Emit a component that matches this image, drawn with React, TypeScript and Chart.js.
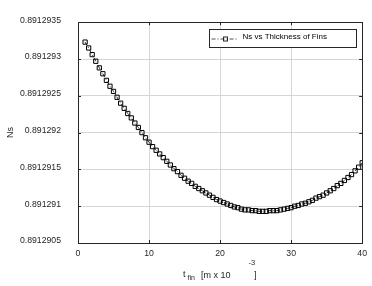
import React, { useEffect, useRef } from "react";
import { Chart, registerables } from "chart.js";

Chart.register(...registerables);

const thickness = [
  1, 1.5, 2, 2.5, 3, 3.5, 4, 4.5, 5, 5.5, 6, 6.5, 7, 7.5, 8, 8.5, 9, 9.5, 10, 10.5,
  11, 11.5, 12, 12.5, 13, 13.5, 14, 14.5, 15, 15.5, 16, 16.5, 17, 17.5, 18, 18.5, 19, 19.5, 20, 20.5,
  21, 21.5, 22, 22.5, 23, 23.5, 24, 24.5, 25, 25.5, 26, 26.5, 27, 27.5, 28, 28.5, 29, 29.5, 30, 30.5,
  31, 31.5, 32, 32.5, 33, 33.5, 34, 34.5, 35, 35.5, 36, 36.5, 37, 37.5, 38, 38.5, 39, 39.5, 40,
];

const nsValues = [
  0.89129323, 0.89129315, 0.89129306, 0.89129297, 0.89129288, 0.8912928, 0.89129271, 0.89129263,
  0.89129256, 0.89129248, 0.8912924, 0.89129233, 0.89129226, 0.8912922, 0.89129213, 0.89129207,
  0.891292, 0.89129193, 0.89129187, 0.89129181, 0.89129176, 0.89129171, 0.89129166, 0.89129161,
  0.89129156, 0.89129151, 0.89129147, 0.89129142, 0.89129138, 0.89129134, 0.89129131, 0.89129127,
  0.89129124, 0.89129121, 0.89129118, 0.89129115, 0.89129112, 0.89129109, 0.89129107, 0.89129105,
  0.89129103, 0.89129101, 0.89129099, 0.89129098, 0.89129096, 0.89129095, 0.89129095, 0.89129094,
  0.89129094, 0.89129093, 0.89129093, 0.89129093, 0.89129094, 0.89129094, 0.89129094, 0.89129095,
  0.89129096, 0.89129097, 0.89129098, 0.891291, 0.89129101, 0.89129103, 0.89129104, 0.89129106,
  0.89129108, 0.89129111, 0.89129113, 0.89129115, 0.89129118, 0.89129121, 0.89129124, 0.89129128,
  0.89129131, 0.89129135, 0.89129139, 0.89129143, 0.89129148, 0.89129153, 0.89129159,
];

const yTickValues = [0.8912905, 0.891291, 0.8912915, 0.891292, 0.8912925, 0.891293, 0.8912935];
const yTickLabels = ["0.8912905", "0.891291", "0.8912915", "0.891292", "0.8912925", "0.891293", "0.8912935"];
const xTickValues = [0, 10, 20, 30, 40];
const xTickLabels = ["0", "10", "20", "30", "40"];

const seriesLabel = "Ns vs Thickness of Fins";
const yTitle = "Ns";

const FONT = "'Liberation Sans', Arial, sans-serif";
const INK = "#262626";

const framePlugin = {
  id: "frame",
  afterDatasetsDraw(chart: any) {
    const { ctx, chartArea } = chart;
    const { left, right, top, bottom } = chartArea;
    const xs = chart.scales.x;
    const ys = chart.scales.y;
    ctx.save();
    ctx.strokeStyle = INK;
    ctx.lineWidth = 1;
    ctx.setLineDash([]);
    // box
    ctx.strokeRect(Math.round(left) + 0.5, Math.round(top) + 0.5, Math.round(right - left), Math.round(bottom - top));
    // inward ticks
    const tl = 3;
    ctx.beginPath();
    xTickValues.forEach((v) => {
      const px = Math.round(xs.getPixelForValue(v)) + 0.5;
      ctx.moveTo(px, bottom);
      ctx.lineTo(px, bottom - tl);
      ctx.moveTo(px, top);
      ctx.lineTo(px, top + tl);
    });
    yTickValues.forEach((v) => {
      const py = Math.round(ys.getPixelForValue(v)) + 0.5;
      ctx.moveTo(left, py);
      ctx.lineTo(left + tl, py);
      ctx.moveTo(right, py);
      ctx.lineTo(right - tl, py);
    });
    ctx.stroke();

    // legend
    const bx = Math.round(right - 153) + 0.5;
    const by = Math.round(top + 7) + 0.5;
    const bw = 147;
    const bh = 18;
    ctx.fillStyle = "#ffffff";
    ctx.fillRect(bx, by, bw, bh);
    ctx.strokeRect(bx, by, bw, bh);
    const ly = by + 9.5;
    ctx.beginPath();
    ctx.setLineDash([4, 2, 1, 2]);
    ctx.lineWidth = 0.8;
    ctx.moveTo(bx + 2, ly);
    ctx.lineTo(bx + 27, ly);
    ctx.stroke();
    ctx.setLineDash([]);
    ctx.lineWidth = 1;
    ctx.strokeRect(bx + 14, ly - 2, 4, 4);
    ctx.fillStyle = "#000000";
    ctx.font = `8px ${FONT}`;
    ctx.textBaseline = "middle";
    ctx.textAlign = "left";
    ctx.fillText(seriesLabel, bx + 33, by + 7.5);

    // x title
    const cx = (left + right) / 2;
    ctx.fillStyle = INK;
    ctx.textBaseline = "alphabetic";
    ctx.font = `9px ${FONT}`;
    ctx.fillText("t", cx - 37, 277);
    ctx.font = `7px ${FONT}`;
    ctx.fillText("fin", cx - 32.5, 280);
    ctx.font = `9px ${FONT}`;
    ctx.fillText("[m x 10", cx - 19, 278);
    ctx.font = `7.5px ${FONT}`;
    ctx.fillText("-3", cx + 28.5, 265);
    ctx.font = `9px ${FONT}`;
    ctx.fillText("]", cx + 34, 278);

    // y title
    ctx.save();
    ctx.translate(10.5, (top + bottom) / 2);
    ctx.rotate(-Math.PI / 2);
    ctx.textAlign = "center";
    ctx.textBaseline = "middle";
    ctx.font = `9px ${FONT}`;
    ctx.fillText(yTitle, 0, 0);
    ctx.restore();

    ctx.restore();
  },
};

export default function App() {
  const ref = useRef<HTMLCanvasElement>(null);
  useEffect(() => {
    document.body.style.margin = "0";
    const canvas = ref.current;
    if (!canvas) return;
    const chart = new Chart(canvas, {
      type: "line",
      data: {
        datasets: [
          {
            label: seriesLabel,
            data: thickness.map((x, i) => ({ x, y: nsValues[i] })),
            borderColor: "#000000",
            borderWidth: 0.8,
            borderDash: [4, 2, 1, 2],
            pointStyle: "rect",
            pointRadius: 3,
            pointBorderWidth: 1,
            pointBorderColor: "#000000",
            pointBackgroundColor: "rgba(0,0,0,0)",
            fill: false,
            tension: 0,
          },
        ],
      },
      options: {
        animation: false,
        responsive: false,
        devicePixelRatio: 1,
        layout: { padding: { top: 10, right: 8, left: 0, bottom: 0 } },
        plugins: { legend: { display: false }, tooltip: { enabled: false }, title: { display: false } },
        scales: {
          x: {
            type: "linear",
            min: 0,
            max: 40,
            afterBuildTicks: (s: any) => {
              s.ticks = xTickValues.map((v) => ({ value: v }));
            },
            afterFit: (s: any) => {
              s.height = 43;
            },
            grid: { color: "#d6d6d6", lineWidth: 1, drawTicks: false },
            border: { display: false },
            ticks: {
              padding: 5,
              color: INK,
              font: { family: FONT, size: 8.7 },
              maxRotation: 0,
              callback: (v: any) => {
                const i = xTickValues.indexOf(Number(v));
                return i >= 0 ? xTickLabels[i] : "";
              },
            },
          },
          y: {
            type: "linear",
            min: 0.8912905,
            max: 0.8912935,
            afterBuildTicks: (s: any) => {
              s.ticks = yTickValues.map((v) => ({ value: v }));
            },
            afterFit: (s: any) => {
              s.width = 78;
            },
            grid: { color: "#d6d6d6", lineWidth: 1, drawTicks: false },
            border: { display: false },
            ticks: {
              padding: 17,
              labelOffset: -2,
              color: INK,
              font: { family: FONT, size: 8.7 },
              callback: (_v: any, i: number) => yTickLabels[i],
            },
          },
        },
      },
      plugins: [framePlugin],
    });
    return () => chart.destroy();
  }, []);
  return <canvas ref={ref} width={372} height={286} style={{ display: "block", width: 372, height: 286 }} />;
}
